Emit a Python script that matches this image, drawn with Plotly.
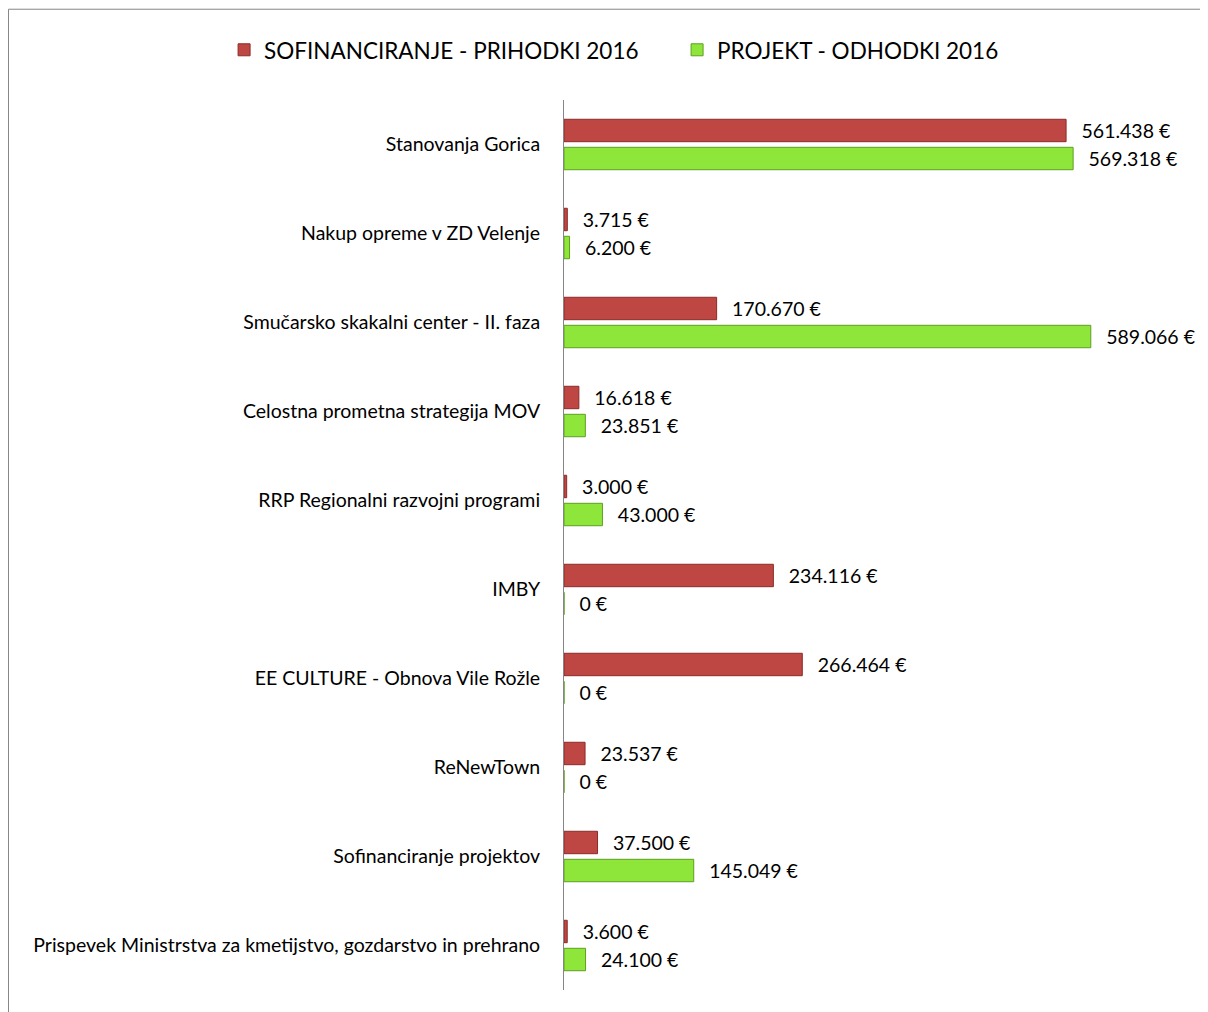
import plotly.graph_objects as go

# projekti (od zgoraj navzdol)
projekti = [
    "Stanovanja Gorica",
    "Nakup opreme v ZD Velenje",
    "Smučarsko skakalni center - II. faza",
    "Celostna prometna strategija MOV",
    "RRP Regionalni razvojni programi",
    "IMBY",
    "EE CULTURE - Obnova Vile Rožle",
    "ReNewTown",
    "Sofinanciranje projektov",
    "Prispevek Ministrstva za kmetijstvo, gozdarstvo in prehrano",
]
prihodki = [561438, 3715, 170670, 16618, 3000, 234116, 266464, 23537, 37500, 3600]
odhodki = [569318, 6200, 589066, 23851, 43000, 0, 0, 0, 145049, 24100]

FONT = "Lato, Liberation Sans, Arial"


def eur(vals):
    # 561438 -> "561.438 €"
    return ["\u00a0\u00a0\u2009" + f"{v:,}".replace(",", ".") + " €" for v in vals]


fig = go.Figure()
fig.add_trace(go.Bar(
    y=projekti, x=prihodki, orientation="h",
    name="SOFINANCIRANJE - PRIHODKI 2016",
    marker=dict(color="#BE4643", line=dict(color="#8A2B29", width=1)),
    text=eur(prihodki), textposition="outside", constraintext="none",
    cliponaxis=False, textfont=dict(size=19.5, color="black"),
))
fig.add_trace(go.Bar(
    y=projekti, x=odhodki, orientation="h",
    name="PROJEKT - ODHODKI 2016",
    marker=dict(color="#8FE63B", line=dict(color="#5E9F22", width=1)),
    text=eur(odhodki), textposition="outside", constraintext="none",
    cliponaxis=False, textfont=dict(size=19.5, color="black"),
))

fig.update_layout(
    width=1208, height=1012,
    margin=dict(l=556, r=26, t=92, b=30),
    paper_bgcolor="white", plot_bgcolor="white",
    font=dict(family=FONT, color="black"),
    barmode="group", bargap=0.37, bargroupgap=0.2,
    showlegend=True,
    legend=dict(orientation="h", x=-0.543, xanchor="left", y=1.056, yanchor="middle",
                font=dict(size=22.5), entrywidth=408, traceorder="normal"),
    # okvir grafikona
    shapes=[dict(type="rect", xref="paper", yref="paper",
                 x0=-0.8874, x1=1.07, y0=-0.05, y1=1.102,
                 line=dict(color="#868686", width=1))],
)
fig.update_xaxes(range=[0, 700000], visible=False, showgrid=False, zeroline=False)
fig.update_yaxes(autorange="reversed", showline=True, linecolor="#868686", linewidth=1,
                 ticks="", ticklabelstandoff=19, tickfont=dict(size=19.5), showgrid=False)

fig.write_html("out.html")
